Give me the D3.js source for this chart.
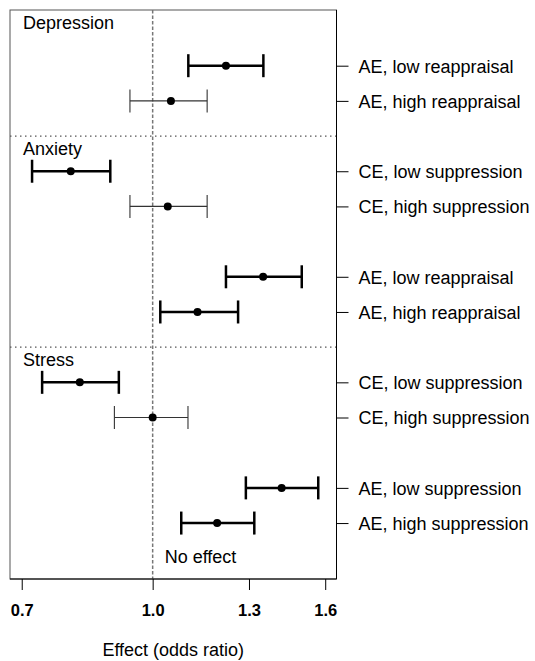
<!DOCTYPE html>
<html>
<head>
<meta charset="utf-8">
<script src="https://cdn.jsdelivr.net/npm/d3@7"></script>
<style>
  html, body { margin: 0; padding: 0; background: #fff; }
  svg { display: block; font-family: "Liberation Sans", Arial, Helvetica, sans-serif; }
</style>
</head>
<body>
<svg id="chart" width="535" height="661"></svg>
<script>
// ---- data ----
const rowLabels = [
  "AE, low reappraisal", "AE, high reappraisal",
  "CE, low suppression", "CE, high suppression",
  "AE, low reappraisal", "AE, high reappraisal",
  "CE, low suppression", "CE, high suppression",
  "AE, low suppression", "AE, high suppression"
];
const rowIndex = [1, 2, 4, 5, 7, 8, 10, 11, 13, 14];
const estimates = [1.221, 1.051, 0.800, 1.042, 1.351, 1.130, 0.820, 1.000, 1.421, 1.192];
const lowerCI   = [1.102, 0.940, 0.720, 0.940, 1.221, 1.021, 0.740, 0.901, 1.289, 1.081];
const upperCI   = [1.352, 1.160, 0.891, 1.160, 1.501, 1.262, 0.912, 1.101, 1.570, 1.319];
const significant = [true, false, true, false, true, true, true, false, true, true];
const groupNames = ["Depression", "Anxiety", "Stress"];
const separatorIndex = [3, 9];
const xTicks = [0.7, 1.0, 1.3, 1.6];
const xTitle = "Effect (odds ratio)";
const refLabel = "No effect";

// ---- layout ----
(function () {
const svg = d3.select("#chart");
const pL = 10, pR = 336.5, pT = 10, pB = 579;
const x = d3.scaleLog().domain([0.678, 1.650]).range([pL, pR]);
const y = d3.scaleLinear().domain([-0.583, 15.59]).range([pT, pB]);

// frame
svg.append("rect")
  .attr("x", pL).attr("y", pT)
  .attr("width", pR - pL).attr("height", pB - pT)
  .attr("fill", "none").attr("stroke", "#555").attr("stroke-width", 1);

// separators (dotted)
svg.selectAll("line.sep").data(separatorIndex).enter().append("line")
  .attr("class", "sep")
  .attr("x1", pL).attr("x2", pR)
  .attr("y1", d => y(d)).attr("y2", d => y(d))
  .attr("stroke", "#555").attr("stroke-width", 1.2)
  .attr("stroke-dasharray", "1.5,3.5");

// reference line at 1
svg.append("line")
  .attr("x1", x(1)).attr("x2", x(1))
  .attr("y1", pT).attr("y2", pB)
  .attr("stroke", "#777").attr("stroke-width", 1.5)
  .attr("stroke-dasharray", "3.5,2");

// group labels
const groupTops = [y.domain()[0]].concat(separatorIndex);
svg.selectAll("text.grp").data(groupNames).enter().append("text")
  .attr("class", "grp")
  .attr("x", pL + 13)
  .attr("y", (d, i) => y(groupTops[i]) + 19)
  .attr("font-size", 18).attr("fill", "#000")
  .text(d => d);

// no effect label
svg.append("text")
  .attr("x", x(1) + 12).attr("y", 563)
  .attr("font-size", 18).attr("fill", "#000")
  .text(refLabel);

// error bars
const rows = rowIndex.map((r, i) => ({
  r, est: estimates[i], lo: lowerCI[i], hi: upperCI[i], sig: significant[i]
}));
const g = svg.append("g");
rows.forEach(d => {
  const col = d.sig ? "#000" : "#333";
  const sw = d.sig ? 2.5 : 1.1;
  const yy = y(d.r);
  g.append("line").attr("x1", x(d.lo)).attr("x2", x(d.hi))
    .attr("y1", yy).attr("y2", yy).attr("stroke", col).attr("stroke-width", sw);
  [d.lo, d.hi].forEach(v => {
    g.append("line").attr("x1", x(v)).attr("x2", x(v))
      .attr("y1", yy - 11.5).attr("y2", yy + 11.5)
      .attr("stroke", col).attr("stroke-width", sw);
  });
  g.append("circle").attr("cx", x(d.est)).attr("cy", yy).attr("r", 4).attr("fill", "#000");
});

// right axis
const yAxis = d3.axisRight(y)
  .tickValues(rowIndex)
  .tickFormat((d, i) => rowLabels[i])
  .tickSize(12).tickPadding(10);
const ya = svg.append("g").attr("transform", `translate(${pR},0)`).call(yAxis);
ya.select(".domain").attr("d", `M0,${pT}V${pB}`).attr("stroke", "#000");
ya.selectAll(".tick line").attr("stroke", "#000");
ya.selectAll(".tick text")
  .attr("font-size", 18).attr("fill", "#000")
  .attr("font-family", "Liberation Sans, Arial, sans-serif")
  .attr("dy", "0.35em");

// bottom axis
const xAxis = d3.axisBottom(x).tickValues(xTicks).tickFormat(d3.format(".1f"))
  .tickSize(11).tickPadding(14).tickSizeOuter(0);
const xa = svg.append("g").attr("transform", `translate(0,${pB})`).call(xAxis);
xa.select(".domain").attr("d", `M${pL},0H${pR}`).attr("stroke", "#000");
xa.selectAll(".tick line").attr("stroke", "#000");
xa.selectAll(".tick text")
  .attr("font-size", 16.5).attr("font-weight", "bold").attr("fill", "#000")
  .attr("font-family", "Liberation Sans, Arial, sans-serif");

// x title
svg.append("text")
  .attr("x", (pL + pR) / 2).attr("y", 656)
  .attr("text-anchor", "middle")
  .attr("font-size", 18).attr("fill", "#000")
  .text(xTitle);
})();
</script>
</body>
</html>
